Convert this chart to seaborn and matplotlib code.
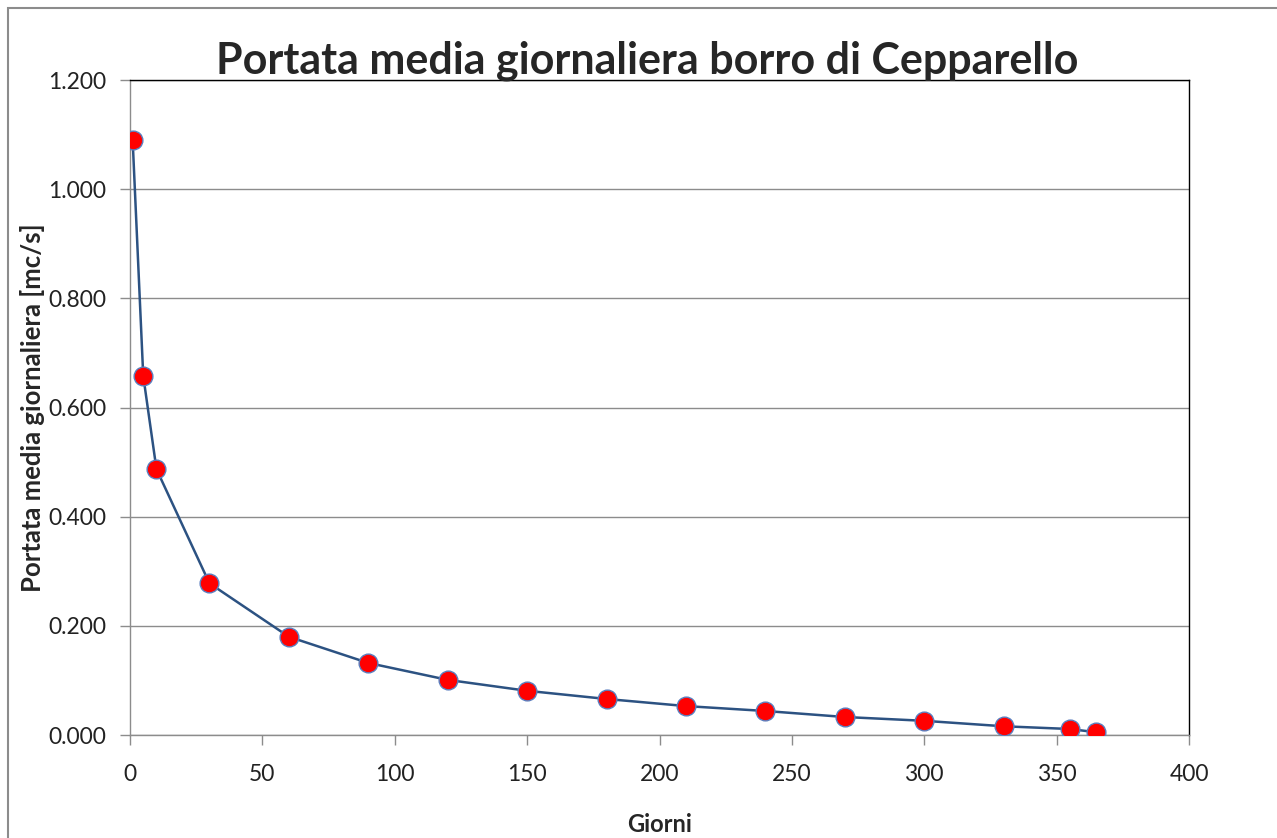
import pandas as pd
import matplotlib.pyplot as plt
import seaborn as sns
from matplotlib.patches import Rectangle
from matplotlib.ticker import FuncFormatter

# Data
giorni = [1, 5, 10, 30, 60, 90, 120, 150, 180, 210, 240, 270, 300, 330, 355, 365]
portata = [1.090, 0.658, 0.487, 0.278, 0.180, 0.132, 0.101, 0.081, 0.066,
           0.053, 0.044, 0.033, 0.026, 0.016, 0.011, 0.005]

df = pd.DataFrame({'Giorni': giorni, 'Portata': portata})

sns.set_style("white")
plt.rcParams['font.family'] = ['Lato', 'DejaVu Sans']

fig = plt.figure(figsize=(12.77, 8.38), dpi=100)
ax = fig.add_axes([0.1018, 0.1229, 0.8293, 0.7816])

sns.lineplot(data=df, x='Giorni', y='Portata', ax=ax, color='#2c5282',
             linewidth=1.8, marker='o', markersize=13.5,
             markerfacecolor='#ff0000', markeredgecolor='#5b7fbf',
             markeredgewidth=1.0, zorder=3)

ax.set_xlim(0, 400)
ax.set_ylim(0, 1.2)
ax.set_xticks(range(0, 401, 50))
ax.set_yticks([0, 0.2, 0.4, 0.6, 0.8, 1.0, 1.2])
ax.yaxis.set_major_formatter(FuncFormatter(lambda v, p: f'{v:.3f}'))
ax.grid(axis='y', color='#8c8c8c', linewidth=1.0)
ax.grid(axis='x', visible=False)
ax.set_axisbelow(True)

for s in ['left', 'bottom']:
    ax.spines[s].set_color('#8c8c8c')
for s in ['top', 'right']:
    ax.spines[s].set_color('#000000')
for s in ax.spines.values():
    s.set_linewidth(1.0)

ax.tick_params(axis='both', direction='out', length=7, width=1.0,
               color='#8c8c8c', labelsize=16.5, labelcolor='#222222',
               left=True, bottom=True)
ax.tick_params(axis='x', pad=14)
ax.tick_params(axis='y', pad=10)

ax.set_xlabel('Giorni', fontsize=17, fontweight='bold', labelpad=20)
ax.set_ylabel('Portata media giornaliera [mc/s]', fontsize=18.5,
              fontweight='bold', labelpad=2)

fig.suptitle('Portata media giornaliera borro di Cepparello', x=0.507, y=0.952,
             fontsize=31, fontweight='bold')

# outer chart border
fig.patches.append(Rectangle((8 / 1277, -0.1), 1.2, 1 - 8 / 838 + 0.1,
                             transform=fig.transFigure, fill=False,
                             edgecolor='#8c8c8c', linewidth=1.5))

fig.savefig('out.png', dpi=100)
